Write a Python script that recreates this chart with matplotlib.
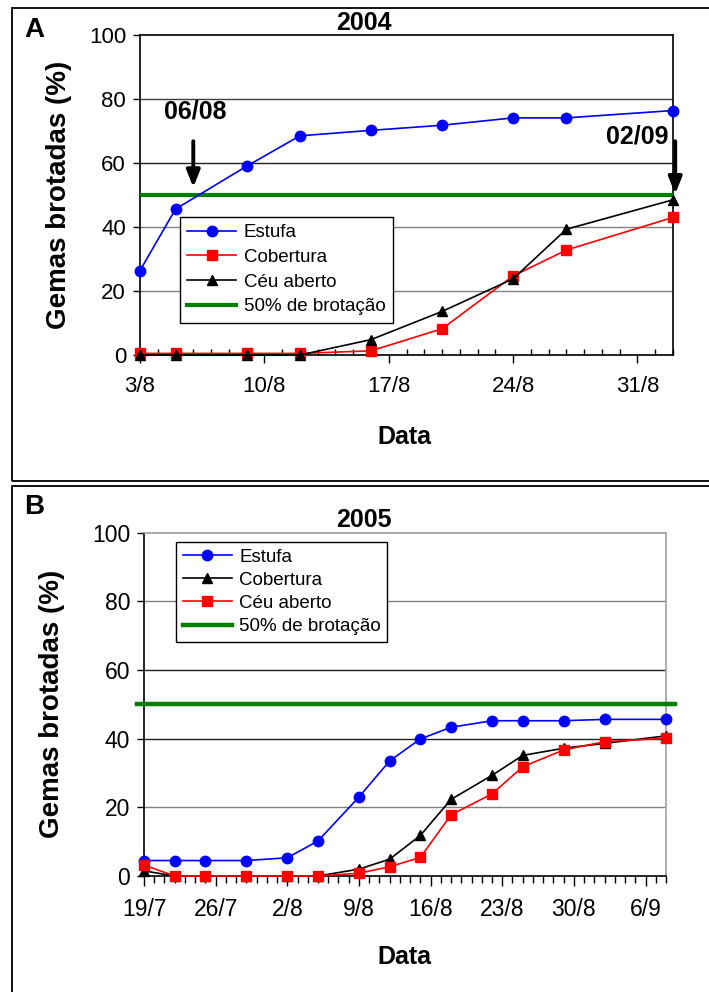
import datetime as dt
import matplotlib
matplotlib.use("Agg")
import matplotlib.pyplot as plt
import matplotlib.dates as mdates
from matplotlib.patches import Rectangle
from matplotlib.ticker import FuncFormatter

plt.rcParams['font.family'] = ['Liberation Sans', 'DejaVu Sans']

# ---- 2004 data (panel A) ----
dates_2004 = ["2004-08-03", "2004-08-05", "2004-08-09", "2004-08-12", "2004-08-16",
              "2004-08-20", "2004-08-24", "2004-08-27", "2004-09-02"]
estufa_2004 = [26.4, 45.6, 59.0, 68.5, 70.2, 71.8, 74.1, 74.1, 76.4]
cobertura_2004 = [0.5, 0.5, 0.5, 0.5, 1.3, 8.2, 24.7, 32.8, 43.0]
ceu_2004 = [0, 0, 0, 0, 4.8, 13.6, 23.8, 39.3, 48.5]
ticks_2004 = ["2004-08-03", "2004-08-10", "2004-08-17", "2004-08-24", "2004-08-31"]

# ---- 2005 data (panel B) ----
dates_2005 = ["2005-07-19", "2005-07-22", "2005-07-25", "2005-07-29", "2005-08-02",
              "2005-08-05", "2005-08-09", "2005-08-12", "2005-08-15", "2005-08-18",
              "2005-08-22", "2005-08-25", "2005-08-29", "2005-09-02", "2005-09-08"]
estufa_2005 = [4.5, 4.5, 4.5, 4.5, 5.3, 10.2, 23.0, 33.5, 39.9, 43.3, 45.2, 45.2, 45.2, 45.6, 45.6]
cobertura_2005 = [1.5, 0, 0, 0, 0, 0, 2.0, 4.9, 11.8, 22.3, 29.3, 35.1, 37.2, 38.6, 40.8]
ceu_2005 = [3.2, 0, 0, 0, 0, 0, 0.8, 2.7, 5.4, 17.8, 23.9, 31.8, 36.7, 39.1, 40.1]
ticks_2005 = ["2005-07-19", "2005-07-26", "2005-08-02", "2005-08-09", "2005-08-16",
              "2005-08-23", "2005-08-30", "2005-09-06"]


def to_dt(lst):
    return [dt.datetime.strptime(s, "%Y-%m-%d") for s in lst]


def day_month(x, pos):
    d = mdates.num2date(x)
    return f"{d.day}/{d.month}"


fig = plt.figure(figsize=(7.09, 9.92), dpi=100)

# panel frames
fig.patches.append(Rectangle((11.5 / 709, 1 - 480.5 / 992), 1.0, 473 / 992,
                             transform=fig.transFigure, fill=False, ec='black', lw=1.3))
fig.patches.append(Rectangle((11.5 / 709, -0.01), 1.0, 1 - 485.5 / 992 + 0.01,
                             transform=fig.transFigure, fill=False, ec='black', lw=1.3))

axA = fig.add_axes([140 / 709, 1 - 355 / 992, 533 / 709, 320 / 992])
axB = fig.add_axes([144 / 709, 1 - 876 / 992, 522 / 709, 343.5 / 992])

ms = dict(circle=7.5, square=6.5, tri=7.5)
arrow_style = '-|>,head_width=0.4,head_length=1.0'

# ---------- A ----------
xa = to_dt(dates_2004)
for y, c in zip([20, 40, 60, 80], ['#808080', '#808080', '#202020', '#404040']):
    axA.axhline(y, color=c, lw=1, zorder=1)
axA.plot(xa, estufa_2004, '-o', color='#0000ff', ms=ms['circle'], lw=1.2,
         label='Estufa', clip_on=False, zorder=4)
axA.plot(xa, cobertura_2004, '-s', color='#ff0000', ms=ms['square'], lw=1.2,
         label='Cobertura', clip_on=False, zorder=4)
axA.plot(xa, ceu_2004, '-^', color='black', ms=ms['tri'], lw=1.2,
         label='Céu aberto', clip_on=False, zorder=5)
axA.plot([xa[0], xa[-1]], [50, 50], color='#008000', lw=3,
         label='50% de brotação', zorder=3)
axA.set_xlim(dt.datetime(2004, 8, 3), dt.datetime(2004, 9, 2))
axA.set_ylim(0, 100)
axA.set_yticks([0, 20, 40, 60, 80, 100])
axA.set_xticks(to_dt(ticks_2004))
axA.xaxis.set_minor_locator(mdates.DayLocator())
axA.xaxis.set_major_formatter(FuncFormatter(day_month))
axA.tick_params(axis='x', which='major', direction='out', length=6, width=1,
                labelsize=16, pad=9)
axA.tick_params(axis='x', which='minor', direction='in', length=4, width=1)
axA.tick_params(axis='y', direction='out', length=5, width=1, labelsize=16, pad=5)
for s in axA.spines.values():
    s.set_linewidth(1.2)
axA.set_ylabel('Gemas brotadas (%)', fontsize=20, fontweight='bold')
axA.yaxis.set_label_coords(-0.128, 0.5)

t1 = dt.datetime(2004, 8, 6)
axA.annotate('', xy=(t1, 52.4), xytext=(t1, 66.8),
             arrowprops=dict(arrowstyle=arrow_style, lw=2.8, color='black',
                             shrinkA=0, shrinkB=0))
axA.text(dt.datetime(2004, 8, 6, 3), 76, '06/08', fontsize=18, fontweight='bold',
         ha='center', va='center')
t2 = dt.datetime(2004, 9, 2, 3)
axA.annotate('', xy=(t2, 50.3), xytext=(t2, 66.8), annotation_clip=False,
             arrowprops=dict(arrowstyle=arrow_style, lw=2.8, color='black',
                             shrinkA=0, shrinkB=0))
axA.text(dt.datetime(2004, 8, 31), 68.4, '02/09', fontsize=18, fontweight='bold',
         ha='center', va='center')

legA = axA.legend(loc='upper left', bbox_to_anchor=(0.075, 0.432), fontsize=13.5,
                  frameon=True, fancybox=False, edgecolor='black', framealpha=1,
                  handlelength=2.6, labelspacing=0.4, borderpad=0.4,
                  handletextpad=0.4, borderaxespad=0)
legA.get_frame().set_linewidth(1)
legA.set_zorder(10)

# ---------- B ----------
xb = to_dt(dates_2005)
for y, c in zip([20, 40, 60, 80], ['#808080', '#202020', '#202020', '#808080']):
    axB.axhline(y, color=c, lw=1, zorder=1)
axB.plot(xb, estufa_2005, '-o', color='#0000ff', ms=ms['circle'], lw=1.2,
         label='Estufa', clip_on=False, zorder=4)
axB.plot(xb, cobertura_2005, '-^', color='black', ms=ms['tri'], lw=1.2,
         label='Cobertura', clip_on=False, zorder=4)
axB.plot(xb, ceu_2005, '-s', color='#ff0000', ms=ms['square'], lw=1.2,
         label='Céu aberto', clip_on=False, zorder=5)
axB.plot([dt.datetime(2005, 7, 18, 7), dt.datetime(2005, 9, 8, 22)], [50, 50],
         color='#008000', lw=3.2, label='50% de brotação', clip_on=False, zorder=3)
axB.set_xlim(dt.datetime(2005, 7, 19), dt.datetime(2005, 9, 8))
axB.set_ylim(0, 100)
axB.set_yticks([0, 20, 40, 60, 80, 100])
axB.set_xticks(to_dt(ticks_2005))
axB.xaxis.set_minor_locator(mdates.DayLocator())
axB.xaxis.set_major_formatter(FuncFormatter(day_month))
axB.tick_params(axis='x', which='major', direction='out', length=7, width=1,
                labelsize=16.5, pad=9)
axB.tick_params(axis='x', which='minor', direction='out', length=5, width=1)
axB.tick_params(axis='y', direction='out', length=5, width=1, labelsize=16.5, pad=5)
axB.spines['top'].set_color('#a0a0a0')
axB.spines['right'].set_color('#a0a0a0')
for s in axB.spines.values():
    s.set_linewidth(1.2)
axB.set_ylabel('Gemas brotadas (%)', fontsize=20, fontweight='bold')
axB.yaxis.set_label_coords(-0.151, 0.5)

legB = axB.legend(loc='upper left', bbox_to_anchor=(0.062, 0.972), fontsize=13.5,
                  frameon=True, fancybox=False, edgecolor='black', framealpha=1,
                  handlelength=2.6, labelspacing=0.32, borderpad=0.35,
                  handletextpad=0.4, borderaxespad=0)
legB.get_frame().set_linewidth(1)
legB.set_zorder(10)

# titles, panel letters, x labels
fig.text(364 / 709, 1 - 23 / 992, '2004', fontsize=18, fontweight='bold', ha='center', va='center')
fig.text(364 / 709, 1 - 520 / 992, '2005', fontsize=18, fontweight='bold', ha='center', va='center')
fig.text(34 / 709, 1 - 30 / 992, 'A', fontsize=20, fontweight='bold', ha='center', va='center')
fig.text(34 / 709, 1 - 507 / 992, 'B', fontsize=20, fontweight='bold', ha='center', va='center')
fig.text(404 / 709, 1 - 437 / 992, 'Data', fontsize=18, fontweight='bold', ha='center', va='center')
fig.text(404 / 709, 1 - 957 / 992, 'Data', fontsize=18, fontweight='bold', ha='center', va='center')

fig.savefig('out.png', dpi=100)
